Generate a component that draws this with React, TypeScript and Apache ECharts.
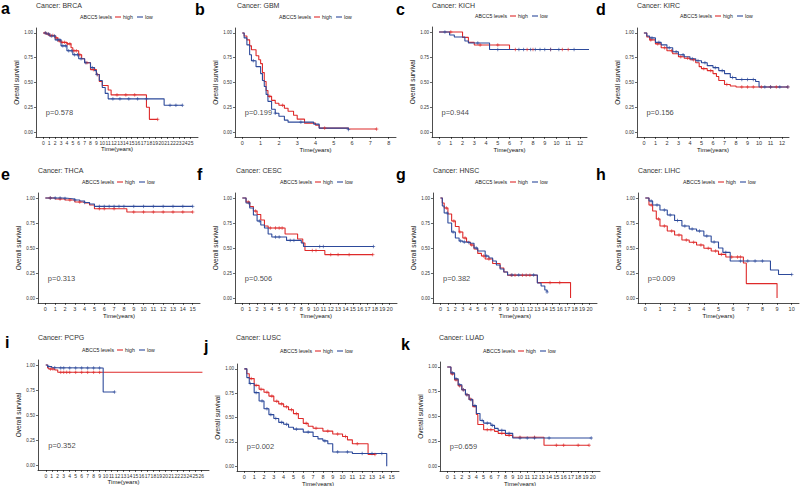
import React, { useEffect, useRef } from "react";
import * as echarts from "echarts";

// ---- data: Kaplan-Meier steps [time (years), survival] ----
const cancers = ["BRCA", "GBM", "KICH", "KIRC", "THCA", "CESC", "HNSC", "LIHC", "PCPG", "LUSC", "LUAD"];
const letters = ["a", "b", "c", "d", "e", "f", "g", "h", "i", "j", "k"];
const pValues = ["p=0.578", "p=0.199", "p=0.944", "p=0.156", "p=0.313", "p=0.506", "p=0.382", "p=0.009", "p=0.352", "p=0.002", "p=0.659"];
const xTickMax = [25, 8, 12, 12, 15, 20, 20, 10, 26, 15, 20];
const yTicks = [0, 0.25, 0.5, 0.75, 1];

const brcaHigh = [[0,1],[0.5,0.99],[1,0.975],[2,0.95],[2.5,0.92],[3,0.905],[4,0.89],[4.7,0.85],[5,0.82],[6,0.78],[6.5,0.74],[7,0.70],[8,0.63],[9,0.58],[9.5,0.51],[10,0.47],[11,0.425],[11.5,0.375],[17.5,0.25],[18,0.128],[19.4,0.128]];
const brcaLow = [[0,1],[0.5,0.99],[1,0.97],[2,0.93],[3,0.87],[4,0.82],[5,0.78],[6,0.74],[7,0.70],[8,0.65],[8.7,0.62],[9,0.58],[9.5,0.52],[10,0.45],[10.5,0.39],[11,0.335],[20.5,0.27],[23.6,0.27]];
const gbmHigh = [[0,1],[0.1,0.97],[0.25,0.93],[0.4,0.87],[0.5,0.83],[0.75,0.77],[0.9,0.73],[1,0.69],[1.1,0.60],[1.2,0.51],[1.3,0.42],[1.4,0.36],[1.6,0.32],[1.8,0.29],[2,0.27],[2.3,0.24],[2.5,0.21],[2.8,0.17],[3,0.13],[3.4,0.09],[4,0.07],[4.2,0.04],[5.8,0.03],[7.34,0.03]];
const gbmLow = [[0,1],[0.1,0.95],[0.25,0.88],[0.4,0.78],[0.5,0.72],[0.75,0.66],[1,0.59],[1.1,0.52],[1.2,0.46],[1.3,0.38],[1.4,0.31],[1.6,0.23],[1.8,0.19],[2,0.16],[2.3,0.12],[2.5,0.10],[3.9,0.08],[4.2,0.04],[5.8,0.025]];
const kichHigh = [[0,1],[2,0.946],[2.5,0.896],[3,0.87],[6,0.825],[11,0.825]];
const kichLow = [[0,1],[0.9,0.97],[1.3,0.95],[2.2,0.91],[2.5,0.89],[4.3,0.825],[12.8,0.825]];
const kircHigh = [[0,1],[0.25,0.96],[0.5,0.93],[1,0.89],[1.5,0.85],[2,0.82],[2.5,0.79],[3,0.76],[3.5,0.745],[4,0.73],[4.5,0.70],[4.8,0.66],[5,0.64],[5.5,0.62],[6,0.59],[6.3,0.56],[6.5,0.52],[7,0.48],[7.5,0.465],[8,0.455],[12.5,0.455]];
const kircLow = [[0,1],[0.25,0.97],[0.5,0.95],[1,0.905],[1.5,0.88],[2,0.85],[2.5,0.81],[3,0.78],[3.5,0.76],[4,0.74],[4.5,0.72],[5,0.70],[5.5,0.67],[6,0.65],[6.5,0.62],[7,0.59],[7.5,0.55],[8,0.53],[9.5,0.53],[9.7,0.51],[10,0.455],[12.5,0.455]];
const thcaHigh = [[0,1],[1,0.99],[2,0.98],[3,0.96],[4,0.95],[4.5,0.93],[5,0.893],[8.3,0.86],[15,0.86]];
const thcaLow = [[0,1],[2,0.995],[2.5,0.99],[3,0.98],[3.5,0.97],[4,0.955],[4.5,0.94],[5,0.916],[15,0.916]];
const cescHigh = [[0,1],[0.5,0.96],[1,0.915],[1.5,0.87],[2,0.835],[2.5,0.78],[3,0.72],[3.5,0.70],[5.8,0.64],[7.5,0.59],[8.2,0.55],[8.5,0.475],[11.2,0.434],[17.7,0.434]];
const cescLow = [[0,1],[0.5,0.95],[1,0.90],[1.5,0.83],[2,0.77],[2.5,0.73],[3,0.70],[3.5,0.64],[4,0.61],[6,0.576],[7.5,0.576],[8,0.55],[8.3,0.515],[17.8,0.515]];
const hnscHigh = [[0,1],[0.25,0.95],[0.5,0.90],[1,0.84],[1.5,0.77],[2,0.715],[2.5,0.66],[3,0.60],[3.5,0.56],[4,0.53],[4.5,0.49],[5,0.446],[5.5,0.42],[6,0.39],[7,0.345],[8,0.30],[8.5,0.26],[9,0.228],[13,0.154],[17.45,0]];
const hnscLow = [[0,1],[0.25,0.92],[0.5,0.85],[1,0.75],[1.5,0.66],[2,0.60],[2.5,0.57],[3,0.56],[3.5,0.555],[4,0.547],[4.5,0.50],[5,0.47],[6,0.42],[6.5,0.40],[7,0.37],[7.5,0.33],[8,0.29],[8.5,0.26],[9,0.23],[13,0.15],[13.5,0.12],[14,0.08],[14.3,0.06]];
const lihcHigh = [[0,1],[0.25,0.93],[0.5,0.87],[0.75,0.79],[1,0.72],[1.5,0.67],[2,0.63],[2.5,0.58],[3,0.557],[3.5,0.53],[4,0.497],[4.5,0.47],[5,0.436],[5.5,0.41],[6.7,0.35],[6.9,0.144],[9,0]];
const lihcLow = [[0,1],[0.25,0.97],[0.5,0.93],[1,0.88],[1.5,0.83],[2,0.775],[2.5,0.72],[3,0.69],[3.5,0.67],[4,0.62],[4.5,0.56],[5,0.50],[5.3,0.456],[5.8,0.37],[8.55,0.28],[9.1,0.235],[10,0.235]];
const pcpgHigh = [[0,1],[0.3,0.97],[0.5,0.96],[1.5,0.95],[2,0.927],[26.2,0.927]];
const pcpgLow = [[0,1],[0.3,0.985],[1,0.973],[2,0.97],[9.6,0.73],[11.5,0.73]];
const luscHigh = [[0,1],[0.25,0.95],[0.5,0.90],[1,0.83],[1.5,0.79],[2,0.76],[2.5,0.72],[3,0.667],[3.5,0.64],[4,0.61],[4.5,0.58],[5,0.54],[5.5,0.49],[6,0.44],[6.5,0.41],[7,0.39],[8,0.36],[9,0.33],[10,0.305],[10.5,0.27],[11,0.23],[12.6,0.12],[13.3,0.12]];
const luscLow = [[0,1],[0.25,0.91],[0.5,0.85],[1,0.756],[1.5,0.67],[2,0.59],[2.5,0.53],[3,0.49],[3.5,0.45],[4,0.43],[4.5,0.40],[5,0.38],[6,0.35],[7,0.305],[7.5,0.28],[8,0.26],[8.5,0.23],[9,0.146],[11,0.13],[14.5,0]];
const luadHigh = [[0,1],[0.5,0.93],[1,0.87],[1.5,0.81],[2,0.77],[2.5,0.72],[3,0.673],[3.5,0.60],[4,0.52],[4.2,0.42],[5,0.367],[6.5,0.35],[7,0.33],[8,0.31],[9,0.29],[13.3,0.21],[19.5,0.21]];
const luadLow = [[0,1],[0.5,0.94],[1,0.88],[1.5,0.82],[2,0.77],[2.5,0.72],[3,0.67],[3.5,0.61],[4,0.53],[4.5,0.46],[5,0.433],[6,0.41],[6.5,0.38],[7,0.36],[8,0.33],[9,0.283],[19.8,0.283]];

// censoring times
const brcaHighCens = [0.3,0.8,1.2,1.6,2.2,2.7,3.2,3.6,4.1,4.5,5.2,5.6,6.2,7.4,8.5,9.2,12.5,14,15.5,19.4];
const brcaLowCens = [0.4,0.9,1.4,1.9,2.4,2.8,3.3,3.8,4.3,4.8,5.3,5.8,6.4,7.2,8.3,9.1,11.8,13,14.5,16,17.5,21.5,22.5,23.6];
const gbmHighCens = [1.5,2.2,4.5,7.34];
const gbmLowCens = [0.6,1.8,3.2,5.8];
const kichHighCens = [1,3.5,5,6.5,7.5,8,9.5,10.5,11];
const kichLowCens = [0.5,3.3,5,6.8,7.2,7.8,8.2,8.6,9,9.5,10.2,11.5,12.8];
const kircHighCens = [0.6,1.2,1.8,2.4,3.2,3.8,4.3,5.2,5.8,7.2,8.5,9,9.5,10.2,11,11.5,12.5];
const kircLowCens = [0.7,1.3,2.2,2.8,3.4,4.2,4.7,5.3,6.2,6.8,7.7,8.5,9,9.5,10.5,11,11.8,12.5];
const thcaHighCens = [0.5,1.5,2.5,3.5,5.5,6,7,9,10,11,12,13,14,15];
const thcaLowCens = [0.5,1,1.5,2,3,4,5.5,6,6.5,7,7.5,8,9,10,11,12,13,14,15];
const cescHighCens = [0.8,1.8,3.8,4.5,5,5.4,9.5,10,12,13,14.5,17.7];
const cescLowCens = [0.9,2.3,4.5,5,6.5,7,10.5,11,17.8];
const hnscHighCens = [0.8,1.8,2.6,3.3,4.2,5.8,6.5,9.5,10,11,11.5,12,14.7,16];
const hnscLowCens = [0.9,1.7,2.7,3.2,3.8,4.8,6.2,9.6,10.5,12.5,14.3];
const lihcHighCens = [0.4,0.9,1.3,1.8,2.3,2.8,3.3,3.8,4.3,4.8,5.2,5.9,6.3,6.5];
const lihcLowCens = [0.4,0.8,1.3,1.7,2.2,2.7,3.2,3.7,4.2,4.7,5.5,6.5,7,7.5,8,10];
const pcpgHighCens = [0.8,1.2,2.5,3,3.5,4,5,6,7,8,9];
const pcpgLowCens = [0.5,1.5,2.5,3,4,5,6,7,8,9,11.5];
const luscHighCens = [0.7,1.2,1.7,2.3,2.8,3.3,3.8,4.3,4.8,5.3,6.3,7.3,8.5,9.5,10.3,11.5,13.3];
const luscLowCens = [0.6,1.2,1.8,2.3,2.7,3.2,3.8,4.3,5.3,6.5,8.2,9.5,10.5,12,13,14];
const luadHighCens = [0.7,1.2,1.7,2.2,2.7,3.2,5.5,6,7.5,8.5,10,12,15,16,18,19.5];
const luadLowCens = [0.7,1.2,1.7,2.2,2.7,3.3,3.8,4.8,5.5,6.2,7.5,8.5,10,11,12,14,19.8];

const highCurves = [brcaHigh, gbmHigh, kichHigh, kircHigh, thcaHigh, cescHigh, hnscHigh, lihcHigh, pcpgHigh, luscHigh, luadHigh];
const lowCurves = [brcaLow, gbmLow, kichLow, kircLow, thcaLow, cescLow, hnscLow, lihcLow, pcpgLow, luscLow, luadLow];
const highCens = [brcaHighCens, gbmHighCens, kichHighCens, kircHighCens, thcaHighCens, cescHighCens, hnscHighCens, lihcHighCens, pcpgHighCens, luscHighCens, luadHighCens];
const lowCens = [brcaLowCens, gbmLowCens, kichLowCens, kircLowCens, thcaLowCens, cescLowCens, hnscLowCens, lihcLowCens, pcpgLowCens, luscLowCens, luadLowCens];

// ---- layout (pixels) ----
const grids = [
  { left: 36, top: 28, width: 162, height: 109 },
  { left: 235, top: 28, width: 161, height: 109 },
  { left: 432, top: 27, width: 155, height: 110 },
  { left: 637, top: 28, width: 152, height: 109 },
  { left: 38, top: 193, width: 162, height: 110 },
  { left: 235, top: 193, width: 162, height: 110 },
  { left: 433, top: 193, width: 164, height: 110 },
  { left: 638, top: 193, width: 161, height: 110 },
  { left: 38, top: 360, width: 171, height: 110 },
  { left: 237, top: 364, width: 162, height: 107 },
  { left: 440, top: 362, width: 160, height: 109 },
];
const nameGaps = [7, 7, 7, 7, 7, 7, 7, 7, 6, 5, 5];
const xLabelSizes = [5, 5.5, 5.5, 5.5, 5.5, 5.5, 5.5, 5.5, 5, 5.5, 5.5];
const titlePos = [[36,5],[237,5],[432,5],[637,5],[38,170],[236,170],[433,170],[638,170],[38,337],[236,337],[439,337]];
const legendPos = [[80,17],[279,17],[475,16],[680,16],[82,182],[280,182],[475,182],[683,182],[82,350],[280,351],[483,351]];
const letterPos = [[1,8],[195,9],[396,9],[596,9],[1,174],[197,174],[396,174],[596,174],[5,342],[204,346],[401,344]];

const RED = "#DE2A2A";
const BLUE = "#2D4A9B";
const FONT = "Liberation Sans, Arial, sans-serif";
const PLUS = "path://M0,5 L10,5 M5,0 L5,10";

function survAt(curve: number[][], t: number) {
  let s = curve[0][1];
  for (const [x, y] of curve) {
    if (x <= t) s = y;
    else break;
  }
  return s;
}

export default function App() {
  const ref = useRef<HTMLDivElement>(null);
  useEffect(() => {
    if (!ref.current) return;
    const chart = echarts.init(ref.current, null, { renderer: "svg" });
    const xAxis: any[] = [];
    const yAxis: any[] = [];
    const series: any[] = [];
    const graphic: any[] = [];
    cancers.forEach((c, i) => {
      const X = xTickMax[i];
      const xt: number[] = [];
      for (let k = 0; k <= X; k++) xt.push(k);
      xAxis.push({
        gridIndex: i, type: "value", min: -0.05 * X, max: 1.05 * X,
        axisLine: { show: true, onZero: false, lineStyle: { color: "#000", width: 0.7 } },
        axisTick: { show: true, length: 2, customValues: xt, lineStyle: { color: "#000", width: 0.6 } },
        axisLabel: { customValues: xt, fontSize: xLabelSizes[i], color: "#333", margin: 3, fontFamily: FONT,
          showMinLabel: true, showMaxLabel: true, hideOverlap: false },
        splitLine: { show: false },
        name: "Time(years)", nameLocation: "middle", nameGap: nameGaps[i],
        nameTextStyle: { fontSize: 6, color: "#111", fontFamily: FONT, fontWeight: "normal", verticalAlign: "top" },
      });
      yAxis.push({
        gridIndex: i, type: "value", min: -0.05, max: 1.05,
        axisLine: { show: true, onZero: false, lineStyle: { color: "#000", width: 0.7 } },
        axisTick: { show: true, length: 2, customValues: yTicks, lineStyle: { color: "#000", width: 0.6 } },
        axisLabel: { customValues: yTicks, fontSize: 4.5, color: "#333", margin: 3, fontFamily: FONT,
          showMinLabel: true, showMaxLabel: true, formatter: (v: number) => v.toFixed(2) },
        splitLine: { show: false },
        name: "Overall survival", nameLocation: "middle", nameGap: 13,
        nameTextStyle: { fontSize: 6.5, color: "#111", fontFamily: FONT, fontWeight: "normal" },
      });
      [[highCurves[i], highCens[i], RED], [lowCurves[i], lowCens[i], BLUE]].forEach(([curve, cens, col]: any) => {
        series.push({
          type: "line", xAxisIndex: i, yAxisIndex: i, step: "end", data: curve,
          showSymbol: false, symbol: "none", silent: true,
          lineStyle: { color: col, width: 1.1 }, z: 3,
        });
        series.push({
          type: "scatter", xAxisIndex: i, yAxisIndex: i, silent: true,
          data: cens.map((t: number) => [t, survAt(curve, t)]),
          symbol: PLUS, symbolSize: 3.5,
          itemStyle: { color: "none", borderColor: col, borderWidth: 0.8 }, z: 4,
        });
      });
      series.push({
        type: "scatter", xAxisIndex: i, yAxisIndex: i, silent: true,
        data: [[0, 0.2]], symbolSize: 1, itemStyle: { color: "transparent" },
        label: { show: true, position: "right", distance: 2, formatter: pValues[i],
          fontSize: 7.5, color: "#111", fontFamily: FONT },
      });
      const [tx, ty] = titlePos[i];
      graphic.push({ type: "text", x: tx, y: ty, silent: true,
        style: { text: "Cancer: " + c, fontSize: 7, fontWeight: "normal", fontFamily: FONT, fill: "#333", textVerticalAlign: "middle" } });
      const [lx, ly] = legendPos[i];
      graphic.push({ type: "text", x: lx, y: ly, silent: true,
        style: { text: "ABCC5 levels", fontSize: 5.2, fontFamily: FONT, fill: "#222", textVerticalAlign: "middle" } });
      graphic.push({ type: "line", silent: true, shape: { x1: lx + 35, y1: ly, x2: lx + 41, y2: ly }, style: { stroke: RED, lineWidth: 1.1 } });
      graphic.push({ type: "text", x: lx + 43, y: ly, silent: true,
        style: { text: "high", fontSize: 5.2, fontFamily: FONT, fill: "#222", textVerticalAlign: "middle" } });
      graphic.push({ type: "line", silent: true, shape: { x1: lx + 57, y1: ly, x2: lx + 63, y2: ly }, style: { stroke: BLUE, lineWidth: 1.1 } });
      graphic.push({ type: "text", x: lx + 65, y: ly, silent: true,
        style: { text: "low", fontSize: 5.2, fontFamily: FONT, fill: "#222", textVerticalAlign: "middle" } });
      const [gx, gy] = letterPos[i];
      graphic.push({ type: "text", x: gx, y: gy, silent: true,
        style: { text: letters[i], fontSize: 16, fontWeight: "bold", fontFamily: FONT, fill: "#000", textVerticalAlign: "middle" } });
    });
    chart.setOption({
      animation: false,
      backgroundColor: "#fff",
      grid: grids.map((g) => ({ ...g, containLabel: false, outerBoundsMode: "none" })),
      xAxis, yAxis, series, graphic,
    });
    return () => chart.dispose();
  }, []);
  return <div ref={ref} style={{ position: "fixed", left: 0, top: 0, width: 800, height: 486, background: "#fff" }} />;
}
